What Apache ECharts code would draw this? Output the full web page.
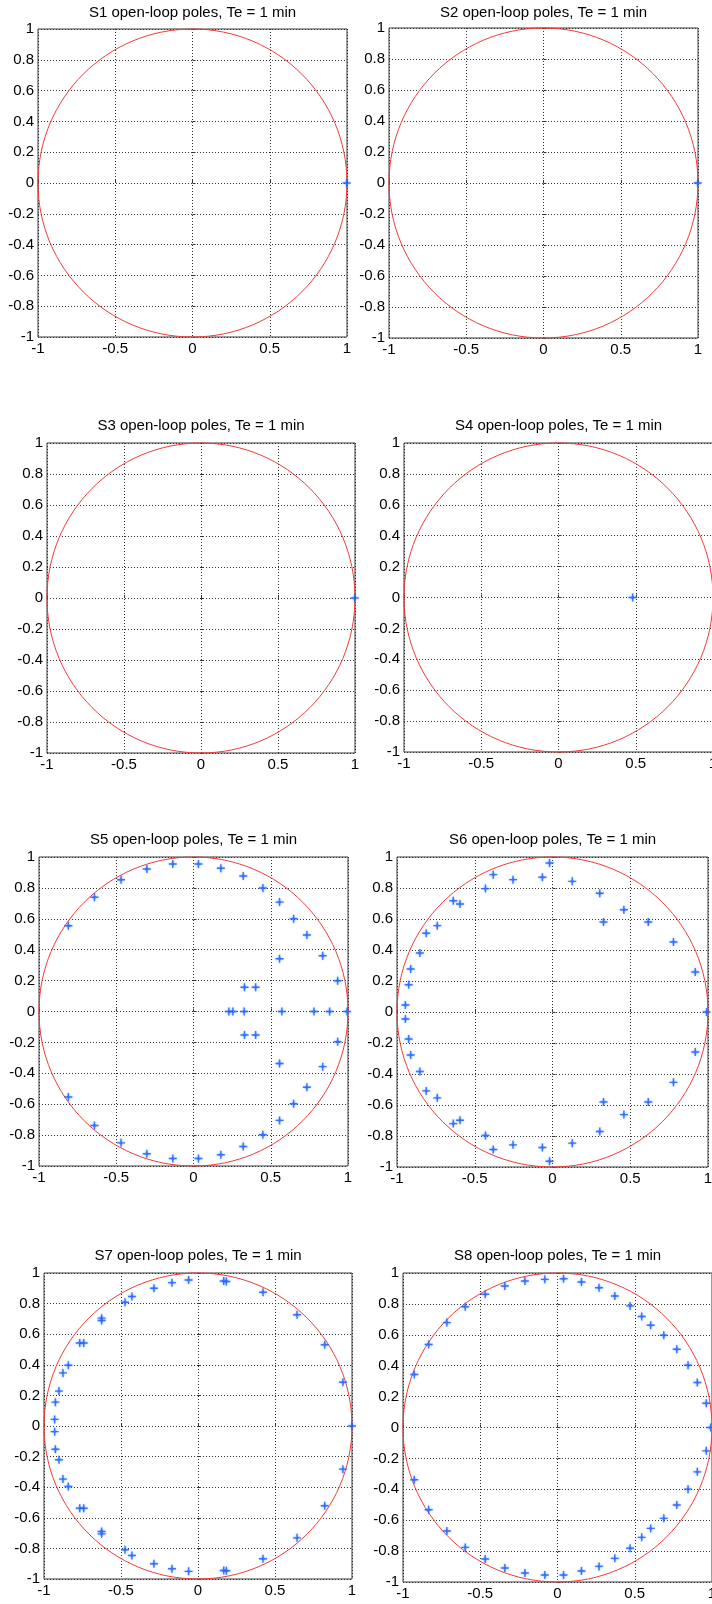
<!DOCTYPE html>
<html>
<head>
<meta charset="utf-8">
<script src="https://cdn.jsdelivr.net/npm/echarts@6/dist/echarts.min.js"></script>
<style>
  html, body { margin: 0; padding: 0; background: #ffffff; overflow: hidden; }
  #chart { width: 712px; height: 1604px; }
</style>
</head>
<body>
<div id="chart"></div>
<script>
// ---------- DATA ----------
const panelTitles = [
  'S1 open-loop poles, Te = 1 min',
  'S2 open-loop poles, Te = 1 min',
  'S3 open-loop poles, Te = 1 min',
  'S4 open-loop poles, Te = 1 min',
  'S5 open-loop poles, Te = 1 min',
  'S6 open-loop poles, Te = 1 min',
  'S7 open-loop poles, Te = 1 min',
  'S8 open-loop poles, Te = 1 min'
];

// unit circle: [centre re, centre im, radius]
const unitCircle = [[0, 0, 1]];

// axis ranges and tick steps (real part on x, imaginary part on y)
const reAxis = { min: -1, max: 1, step: 0.5 };
const imAxis = { min: -1, max: 1, step: 0.2 };

// poles [re, im]
const s1Poles = [[0.998, 0]];
const s2Poles = [[0.998, 0]];
const s3Poles = [[0.998, 0]];
const s4Poles = [[0.48, 0]];

const s5Poles = [
  [0.994, 0], [0.881, 0], [0.780, 0], [0.572, 0], [0.328, 0], [0.255, 0], [0.229, 0],
  [-0.810, 0.555], [-0.641, 0.739], [-0.469, 0.853], [-0.302, 0.922], [-0.134, 0.955],
  [0.032, 0.955], [0.177, 0.927], [0.322, 0.877], [0.449, 0.799], [0.557, 0.708],
  [0.648, 0.600], [0.734, 0.495], [0.836, 0.361], [0.933, 0.199],
  [0.557, 0.341], [0.330, 0.157], [0.402, 0.157],
  [-0.810, -0.553], [-0.641, -0.738], [-0.469, -0.850], [-0.302, -0.921], [-0.134, -0.951],
  [0.032, -0.951], [0.177, -0.927], [0.322, -0.874], [0.449, -0.798], [0.557, -0.705],
  [0.648, -0.597], [0.734, -0.490], [0.836, -0.357], [0.933, -0.196],
  [0.557, -0.337], [0.330, -0.152], [0.402, -0.152]
];

const s6Poles = [
  [0.991, 0],
  [-0.019, 0.961], [-0.065, 0.869], [-0.254, 0.854], [-0.381, 0.886], [-0.431, 0.796],
  [-0.595, 0.697], [-0.638, 0.718], [-0.741, 0.557], [-0.812, 0.508], [-0.853, 0.381],
  [-0.912, 0.277], [-0.925, 0.176], [-0.946, 0.045],
  [0.127, 0.843], [0.304, 0.766], [0.328, 0.581], [0.459, 0.660], [0.616, 0.581],
  [0.778, 0.452], [0.918, 0.258],
  [-0.946, -0.045], [-0.925, -0.174], [-0.912, -0.277], [-0.853, -0.384], [-0.812, -0.509],
  [-0.741, -0.554], [-0.638, -0.720], [-0.595, -0.698], [-0.431, -0.797], [-0.381, -0.887],
  [-0.254, -0.857], [-0.065, -0.874], [-0.019, -0.963],
  [0.127, -0.846], [0.304, -0.771], [0.328, -0.581], [0.459, -0.662], [0.616, -0.581],
  [0.778, -0.454], [0.918, -0.258]
];

const s7Poles = [
  [1.0, 0],
  [0.941, 0.286], [0.823, 0.531], [0.643, 0.727], [0.422, 0.874], [0.167, 0.948], [0.184, 0.944],
  [-0.061, 0.954], [-0.169, 0.937], [-0.286, 0.900], [-0.429, 0.846], [-0.474, 0.809],
  [-0.626, 0.705], [-0.626, 0.690], [-0.768, 0.542], [-0.742, 0.542], [-0.842, 0.397],
  [-0.877, 0.347], [-0.903, 0.228], [-0.926, 0.156], [-0.931, 0.043],
  [-0.931, -0.037], [-0.926, -0.152], [-0.903, -0.221], [-0.877, -0.347], [-0.842, -0.395],
  [-0.768, -0.538], [-0.742, -0.538], [-0.626, -0.705], [-0.626, -0.690], [-0.474, -0.809],
  [-0.429, -0.846], [-0.286, -0.900], [-0.169, -0.933], [-0.061, -0.950],
  [0.167, -0.944], [0.184, -0.946], [0.422, -0.868], [0.643, -0.731], [0.823, -0.521], [0.941, -0.282]
];

const s8Poles = [
  [0.991, 0],
  [0.963, 0.157], [0.905, 0.291], [0.845, 0.403], [0.772, 0.506], [0.688, 0.597],
  [0.603, 0.662], [0.545, 0.718], [0.470, 0.787], [0.371, 0.851], [0.269, 0.905],
  [0.155, 0.942], [0.039, 0.963], [-0.082, 0.959], [-0.211, 0.948], [-0.341, 0.916],
  [-0.468, 0.862], [-0.597, 0.782], [-0.716, 0.679], [-0.834, 0.537], [-0.927, 0.343],
  [-0.927, -0.338], [-0.834, -0.532], [-0.716, -0.670], [-0.597, -0.776], [-0.468, -0.851],
  [-0.341, -0.909], [-0.211, -0.942], [-0.082, -0.955], [0.039, -0.955], [0.155, -0.929],
  [0.269, -0.899], [0.371, -0.847], [0.470, -0.782], [0.545, -0.711], [0.603, -0.653],
  [0.688, -0.588], [0.772, -0.502], [0.845, -0.399], [0.905, -0.287], [0.963, -0.151]
];

const panelPoles = [s1Poles, s2Poles, s3Poles, s4Poles, s5Poles, s6Poles, s7Poles, s8Poles];

// ---------- LAYOUT ----------
const panelBoxes = [
  { left: 38,  top: 29,   width: 309, height: 308, titleY: 5 },
  { left: 389, top: 28,   width: 309, height: 310, titleY: 5 },
  { left: 47,  top: 443,  width: 308, height: 310, titleY: 418 },
  { left: 404, top: 443,  width: 309, height: 309, titleY: 418 },
  { left: 39,  top: 857,  width: 309, height: 309, titleY: 832 },
  { left: 397, top: 857,  width: 311, height: 310, titleY: 832 },
  { left: 44,  top: 1273, width: 308, height: 306, titleY: 1248 },
  { left: 403, top: 1273, width: 309, height: 309, titleY: 1248 }
];

const FONT = '"Liberation Sans", Arial, Helvetica, sans-serif';
const plusPath = 'path://M0,3.3L8,3.3L8,4.7L0,4.7Z M3.3,0L4.7,0L4.7,8L3.3,8Z M2.8,2.8L5.2,2.8L5.2,5.2L2.8,5.2Z';

const grids = [], xAxes = [], yAxes = [], titles = [], series = [];

panelBoxes.forEach((b, i) => {
  grids.push({
    left: b.left, top: b.top, width: b.width, height: b.height,
    containLabel: false,
    outerBoundsMode: 'none',
    show: true, borderColor: '#3a3a3a', borderWidth: 1, backgroundColor: '#ffffff'
  });
  const axisCommon = {
    gridIndex: i,
    axisLine: { show: false },
    axisTick: { show: true, inside: true, length: 3, lineStyle: { color: '#333' } },
    splitLine: { show: true, lineStyle: { color: '#333', type: [1, 2], width: 1 } },
    axisLabel: { color: '#000', fontFamily: FONT, fontSize: 15, margin: 4 }
  };
  xAxes.push(Object.assign({}, axisCommon, {
    type: 'value', min: reAxis.min, max: reAxis.max, interval: reAxis.step
  }));
  yAxes.push(Object.assign({}, axisCommon, {
    type: 'value', min: imAxis.min, max: imAxis.max, interval: imAxis.step
  }));
  titles.push({
    text: panelTitles[i],
    left: b.left + b.width / 2,
    top: b.titleY,
    textAlign: 'center',
    padding: 0,
    textStyle: { fontFamily: FONT, fontSize: 15, fontWeight: 'normal', color: '#000' }
  });
  series.push({
    type: 'custom',
    xAxisIndex: i, yAxisIndex: i,
    data: unitCircle,
    silent: true,
    clip: false,
    z: 3,
    encode: { x: 0, y: 1 },
    renderItem: function (params, api) {
      const c = api.coord([api.value(0), api.value(1)]);
      const s = api.size([api.value(2), api.value(2)]);
      return {
        type: 'ellipse',
        shape: { cx: c[0], cy: c[1], rx: s[0], ry: s[1] },
        style: { fill: 'none', stroke: '#f23a3a', lineWidth: 1 }
      };
    }
  });
  series.push({
    type: 'scatter',
    xAxisIndex: i, yAxisIndex: i,
    data: panelPoles[i],
    symbol: plusPath,
    symbolSize: 8,
    clip: false,
    z: 4,
    itemStyle: { color: '#1a5cff', shadowColor: 'rgba(90,150,255,0.9)', shadowBlur: 2 }
  });
});

const chart = echarts.init(document.getElementById('chart'), null, { renderer: 'canvas' });
chart.setOption({
  backgroundColor: '#ffffff',
  animation: false,
  title: titles,
  grid: grids,
  xAxis: xAxes,
  yAxis: yAxes,
  series: series
});
</script>
</body>
</html>
